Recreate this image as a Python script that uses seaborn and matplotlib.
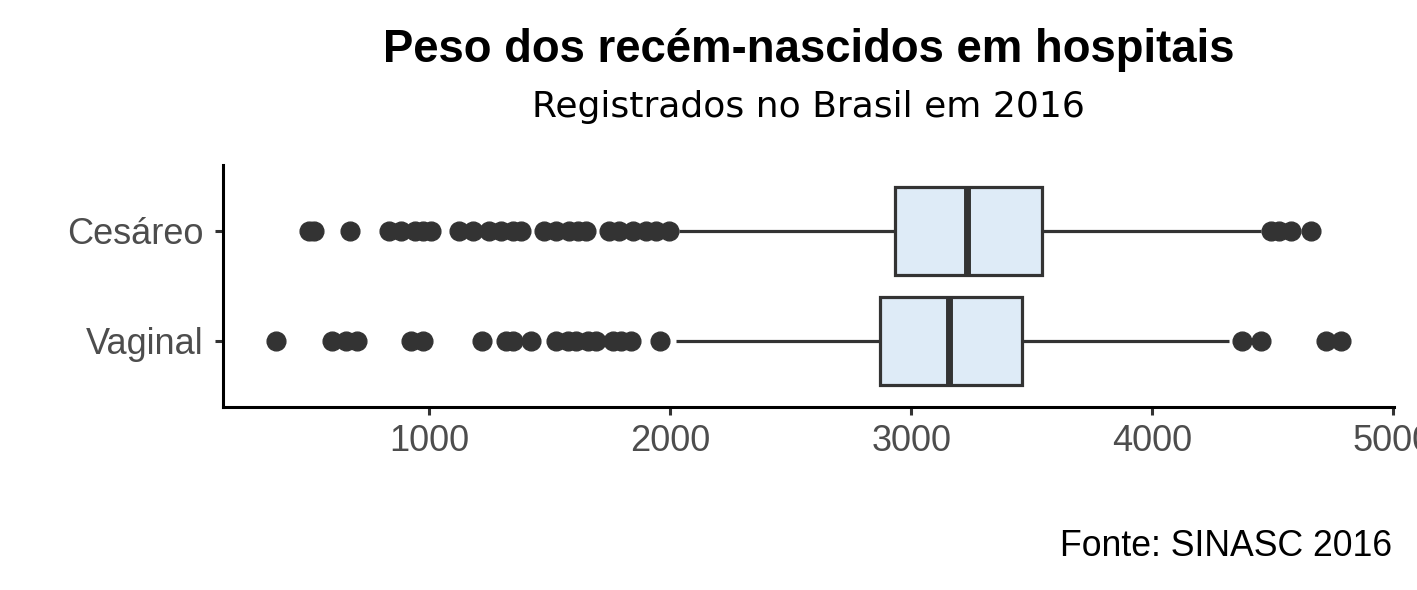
import numpy as np
import pandas as pd
import matplotlib
matplotlib.use("Agg")
import matplotlib.pyplot as plt
import seaborn as sns

# valores (peso em gramas)
categories = ["Cesáreo", "Vaginal"]
q1 = [2934, 2870]
medians = [3231, 3155]
q3 = [3544, 3459]
whisker_low = [2037, 2024]
whisker_high = [4450, 4320]
outliers_cesareo = [499, 519, 671, 834, 882, 938, 972, 1007, 1124, 1180, 1249,
                    1297, 1346, 1380, 1477, 1526, 1581, 1616, 1650, 1747, 1788,
                    1844, 1900, 1940, 1996, 4492, 4527, 4575, 4658]
outliers_vaginal = [364, 596, 654, 698, 924, 972, 1218, 1318, 1345, 1422, 1526,
                    1574, 1610, 1657, 1690, 1761, 1795, 1837, 1956, 4375, 4451,
                    4721, 4783]
outliers = [outliers_cesareo, outliers_vaginal]

# monta uma tabela "bruta" que reproduz os quartis e os pontos extremos
rows = []
for i, cat in enumerate(categories):
    body = [whisker_low[i], whisker_high[i]] + [q1[i]] * 100 + [medians[i]] * 100 + [q3[i]] * 100
    for v in body + outliers[i]:
        rows.append({"parto": cat, "peso": v})
df = pd.DataFrame(rows)

sns.set_style("ticks")
plt.rcParams['font.family'] = ['Liberation Sans', 'DejaVu Sans']

fig = plt.figure(figsize=(14.17, 5.9), dpi=100)
ax = fig.add_axes([223 / 1417, 1 - 407 / 590, 1171 / 1417, 242 / 590])

sns.boxplot(data=df, x="peso", y="parto", order=categories, orient="h",
            color="#deebf7", saturation=1, width=0.8, linecolor="#333333",
            linewidth=2.3, showcaps=False, fliersize=13.5,
            flierprops=dict(marker="o", markerfacecolor="#333333",
                            markeredgecolor="#333333"),
            medianprops=dict(linewidth=5, color="#333333"), ax=ax)

# limites com expansao de 5%
lo, hi = df["peso"].min(), df["peso"].max()
pad = 0.05 * (hi - lo)
ax.set_xlim(lo - pad, hi + pad)
ax.set_ylim(1.6, -0.6)
ax.set_xticks([1000, 2000, 3000, 4000, 5000])
ax.set_xlabel("")
ax.set_ylabel("")

sns.despine(ax=ax)
for side in ["left", "bottom"]:
    ax.spines[side].set_linewidth(2.2)
    ax.spines[side].set_color("black")
ax.tick_params(axis="both", length=6, width=2.2, color="#333333",
               labelsize=26, labelcolor="#4D4D4D")
ax.tick_params(axis="y", pad=8)
ax.tick_params(axis="x", pad=6)

xc = (223 + 1171 / 2) / 1417
fig.text(xc, 1 - 62 / 590, "Peso dos recém-nascidos em hospitais", ha="center",
         va="baseline", fontsize=32.8, fontweight="bold", color="black")
fig.text(xc, 1 - 117 / 590, "Registrados no Brasil em 2016", ha="center",
         va="baseline", fontsize=26, family="DejaVu Sans", color="black")
fig.text(1392 / 1417, 1 - 556 / 590, "Fonte: SINASC 2016", ha="right",
         va="baseline", fontsize=25.7, color="black")

fig.savefig("out.png", dpi=100)
